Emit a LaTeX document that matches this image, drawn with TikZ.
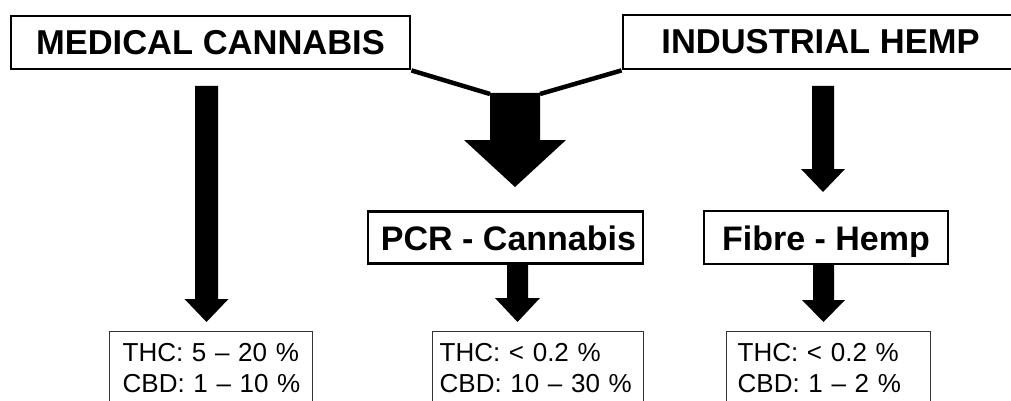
\documentclass[tikz,border=0pt]{standalone}
\usepackage{fontspec}
\setmainfont{Liberation Sans}
\begin{document}
\begin{tikzpicture}[x=1pt,y=-1pt,
  topbox/.style={draw=black, line width=2.8pt, fill=white, inner sep=0pt,
    font=\bfseries\fontsize{34.5}{40}\selectfont, text height=24pt, text depth=0pt},
  midbox/.style={draw=black, line width=2.8pt, fill=white, inner sep=0pt,
    font=\bfseries\fontsize{34}{40}\selectfont, text height=25pt, text depth=0pt},
  databox/.style={draw=black!80, line width=1.3pt, fill=white, anchor=north west,
    inner xsep=0pt, inner ysep=12pt, align=left,
    font=\fontsize{26}{31}\selectfont},
  joinline/.style={line width=4.5pt, line cap=butt, line join=miter}
]
\useasboundingbox (0,0) rectangle (1011,401);
\fill[white] (0,0) rectangle (1011,401);

% block arrow: x, top, head start, tip, shaft half width, head half width
\newcommand{\blockarrowdraw}[6]{%
  \fill[black] (#1-#5,#2) -- (#1+#5,#2) -- (#1+#5,#3) -- (#1+#6,#3) --
    (#1,#4) -- (#1-#6,#3) -- (#1-#5,#3) -- cycle;}

% top boxes
\node[topbox, minimum width=399pt, minimum height=53pt] (med) at (210.5,42.5) {MEDICAL CANNABIS};
\node[topbox, minimum width=395pt, minimum height=54pt] (ind) at (820.5,42) {INDUSTRIAL HEMP};

% middle boxes
\node[midbox, minimum width=275pt, minimum height=52pt] (pcr) at (505.5,237.5) {\hspace*{6pt}PCR - Cannabis};
\node[midbox, minimum width=244pt, minimum height=53pt] (fib) at (826,237.5) {Fibre - Hemp};

% data boxes
\node[databox, text width=203pt] (medd) at (109,331)
  {\hspace*{13pt}THC: 5 – 20 \%\\\hspace*{13pt}CBD: 1 – 10 \%};
\node[databox, text width=211pt] (pcrd) at (432,331)
  {\hspace*{7pt}THC: < 0.2 \%\\\hspace*{7pt}CBD: 10 – 30 \%};
\node[databox, text width=204pt] (fibd) at (726,331)
  {\hspace*{11pt}THC: < 0.2 \%\\\hspace*{11pt}CBD: 1 – 2 \%};

% joining lines into the big arrow
\coordinate (shaftL) at (490,94);
\coordinate (shaftR) at (540,94);
\draw[joinline] (med.south east) -- (shaftL);
\draw[joinline] (ind.south west) -- (shaftR);

% arrows
\blockarrowdraw{515}{93}{140}{187}{25}{51}
\blockarrowdraw{206.5}{86}{299}{322}{11.5}{22}
\blockarrowdraw{823}{86}{169}{192}{11}{22}
\blockarrowdraw{517.5}{263}{298}{322}{10.5}{22.5}
\blockarrowdraw{823.5}{264}{300}{322}{10.5}{21.5}
\end{tikzpicture}
\end{document}
